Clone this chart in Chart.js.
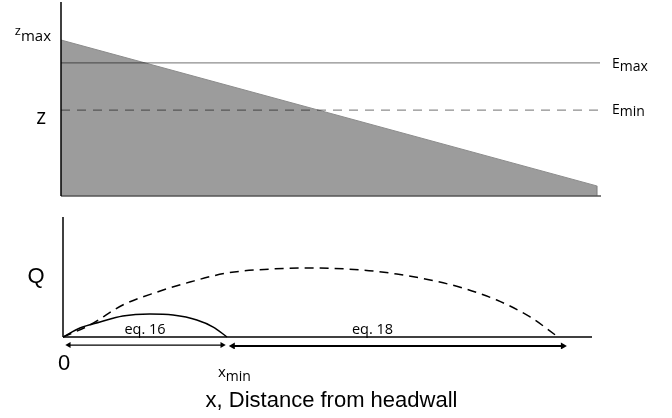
<!DOCTYPE html>
<html><head><meta charset="utf-8">
<script src="https://cdn.jsdelivr.net/npm/chart.js@4.4.0/dist/chart.umd.min.js"></script>
<style>
html,body{margin:0;padding:0;background:#fff;width:672px;height:418px;overflow:hidden}
#upper{position:absolute;left:0;top:0}
#lower{position:absolute;left:0;top:210px}
</style></head><body>
<canvas id="upper" width="672" height="210"></canvas>
<canvas id="lower" width="672" height="208"></canvas>
<script>
// ---- Upper panel: sloping surface and the two reference levels ----
const surfaceX = [0, 99.4, 99.4];
const surfaceZ = [80.4, 5.2, 0];
const levelSpan = [0, 100];
const eMaxLevel = 68.6;
const eMinLevel = 44.3;
const zMaxLevel = 80.4;
const zLevel = 39.7;

// ---- Lower panel: discharge along the slope ----
const eq16X = [0, 3.2, 7.0, 11.3, 16.4, 20.8, 25.3, 28.4, 31.0];
const eq16Q = [0, 7.5, 12.5, 17.5, 19.2, 18.3, 14.2, 8.3, 0];
const eq18X = [0, 5.1, 11.3, 17.8, 24, 31, 39.7, 46.7, 56.7, 63.1, 69.4, 75.6, 82, 88.3, 93.6];
const eq18Q = [0, 10, 26.7, 37.5, 45.8, 53.3, 56.7, 57.5, 55.8, 52.5, 47.5, 40.8, 30.8, 16.7, 0];
const xMin = 31;
const rangeEq16 = [1.1, 30.1];
const rangeEq18 = [32.1, 94.5];
const arrowQ = [-6.7, -7.5];
const eqLabelX = [15.5, 58.5];
const eqLabels = ['eq. 16', 'eq. 18'];
const tickValues = [0, xMin];

const pts = (xs, ys) => xs.map((x, i) => ({x: x, y: ys[i]}));

const SANS = '"Open Sans", sans-serif';
const HELV = '"Liberation Sans", Arial, sans-serif';

// draw a symbol with a lowered subscript, anchored at x by align
function subText(ctx, base, baseFont, sub, subFont, x, y, dy, align) {
  ctx.font = baseFont;
  const wb = ctx.measureText(base).width;
  ctx.font = subFont;
  const ws = ctx.measureText(sub).width;
  let x0 = x;
  if (align === 'right') x0 = x - wb - ws;
  else if (align === 'center') x0 = x - (wb + ws) / 2;
  ctx.textAlign = 'left';
  ctx.textBaseline = 'alphabetic';
  ctx.fillStyle = '#000';
  ctx.font = baseFont;
  ctx.fillText(base, x0, y);
  ctx.font = subFont;
  ctx.fillText(sub, x0 + wb, y + dy);
}

// axis lines: the vertical one at the left edge, the horizontal one at value 0
function axesPlugin(yColor, xColor, xExtra) {
  return {
    id: 'panelAxes',
    afterDatasetsDraw(chart) {
      const {ctx, chartArea: a, scales: {y}} = chart;
      const y0 = y.getPixelForValue(0);
      ctx.save();
      ctx.lineWidth = 1.5;
      ctx.strokeStyle = xColor;
      ctx.beginPath();
      ctx.moveTo(a.left, y0);
      ctx.lineTo(a.right + xExtra, y0);
      ctx.stroke();
      ctx.strokeStyle = yColor;
      ctx.beginPath();
      ctx.moveTo(a.left, a.top);
      ctx.lineTo(a.left, y0);
      ctx.stroke();
      ctx.restore();
    }
  };
}

const upperText = {
  id: 'upperText',
  afterDraw(chart) {
    const {ctx, chartArea: a, scales: {x, y}} = chart;
    ctx.save();
    subText(ctx, 'z', '13px ' + SANS, 'max', '15px ' + SANS,
      a.left - 10, y.getPixelForValue(zMaxLevel) - 5, 5.5, 'right');
    ctx.font = '21px ' + SANS;
    ctx.textAlign = 'right';
    ctx.fillStyle = '#000';
    ctx.fillText('z', a.left - 15, y.getPixelForValue(zLevel) + 5);
    subText(ctx, 'E', '14px ' + SANS, 'max', '14px ' + SANS,
      a.right + 12, y.getPixelForValue(eMaxLevel) + 5.3, 2.4, 'left');
    subText(ctx, 'E', '14px ' + SANS, 'min', '14px ' + SANS,
      a.right + 12, y.getPixelForValue(eMinLevel) + 4, 2.2, 'left');
    ctx.restore();
  }
};

const lowerText = {
  id: 'lowerText',
  afterDraw(chart) {
    const {ctx, chartArea: a, scales: {x, y}} = chart;
    const y0 = y.getPixelForValue(0);
    ctx.save();
    ctx.fillStyle = '#000';
    ctx.textAlign = 'center';
    ctx.textBaseline = 'middle';
    ctx.font = '22px ' + HELV;
    ctx.fillText('Q', a.left - 27, (a.top + y0) / 2);
    ctx.textBaseline = 'alphabetic';
    ctx.fillText('0', x.getPixelForValue(tickValues[0]) + 1, y0 + 33);
    subText(ctx, 'x', '15px ' + SANS, 'min', '14px ' + SANS,
      x.getPixelForValue(tickValues[1]) - 9, y0 + 40, 4, 'left');
    ctx.font = '22px ' + HELV;
    ctx.textAlign = 'center';
    ctx.fillText('x, Distance from headwall', (a.left + a.right) / 2 + 4, y0 + 70);
    ctx.font = '14.5px ' + SANS;
    eqLabels.forEach((t, i) => {
      ctx.fillText(t, x.getPixelForValue(eqLabelX[i]), y0 - 3);
    });
    ctx.restore();
  }
};

const common = {
  responsive: false,
  animation: false,
  events: [],
  plugins: {legend: {display: false}, tooltip: {enabled: false}},
};

new Chart(document.getElementById('upper'), {
  type: 'line',
  data: {
    datasets: [
      {
        data: pts(surfaceX, surfaceZ),
        order: 3,
        fill: 'origin',
        backgroundColor: 'rgb(156,156,156)',
        borderColor: 'rgb(140,140,140)',
        borderWidth: 1,
        pointRadius: 0,
        tension: 0
      },
      {
        data: pts(levelSpan, [eMaxLevel, eMaxLevel]),
        order: 1,
        borderColor: 'rgba(0,0,0,0.45)',
        borderWidth: 1.3,
        pointRadius: 0
      },
      {
        data: pts(levelSpan, [eMinLevel, eMinLevel]),
        order: 2,
        borderColor: 'rgba(0,0,0,0.45)',
        borderWidth: 1.3,
        borderDash: [9, 7],
        pointRadius: 0
      }
    ]
  },
  options: Object.assign({}, common, {
    layout: {padding: {left: 61, right: 72, top: 2, bottom: 14}},
    scales: {
      x: {type: 'linear', min: 0, max: 100, display: false},
      y: {type: 'linear', min: 0, max: 100, display: false}
    }
  }),
  plugins: [axesPlugin('#000', '#555', 1), upperText]
});

new Chart(document.getElementById('lower'), {
  type: 'line',
  data: {
    datasets: [
      {
        data: pts(eq16X, eq16Q),
        borderColor: '#000',
        borderWidth: 1.5,
        pointRadius: 0,
        cubicInterpolationMode: 'monotone'
      },
      {
        data: pts(eq18X, eq18Q),
        borderColor: '#000',
        borderWidth: 1.5,
        borderDash: [9, 6],
        pointRadius: 0,
        cubicInterpolationMode: 'monotone'
      },
      {
        data: pts(rangeEq16, [arrowQ[0], arrowQ[0]]),
        borderColor: '#000',
        backgroundColor: '#000',
        pointBackgroundColor: '#000',
        borderWidth: 1.2,
        pointStyle: 'triangle',
        pointRadius: 3.5,
        pointBorderWidth: 0,
        pointRotation: [270, 90]
      },
      {
        data: pts(rangeEq18, [arrowQ[1], arrowQ[1]]),
        borderColor: '#000',
        backgroundColor: '#000',
        pointBackgroundColor: '#000',
        borderWidth: 2,
        pointStyle: 'triangle',
        pointRadius: 4,
        pointBorderWidth: 0,
        pointRotation: [270, 90]
      }
    ]
  },
  options: Object.assign({}, common, {
    layout: {padding: {left: 63, right: 80, top: 7, bottom: 69}},
    scales: {
      x: {type: 'linear', min: 0, max: 100, display: false},
      y: {type: 'linear', min: -10, max: 100, display: false}
    }
  }),
  plugins: [axesPlugin('#000', '#000', 0), lowerText]
});
</script>
</body></html>
